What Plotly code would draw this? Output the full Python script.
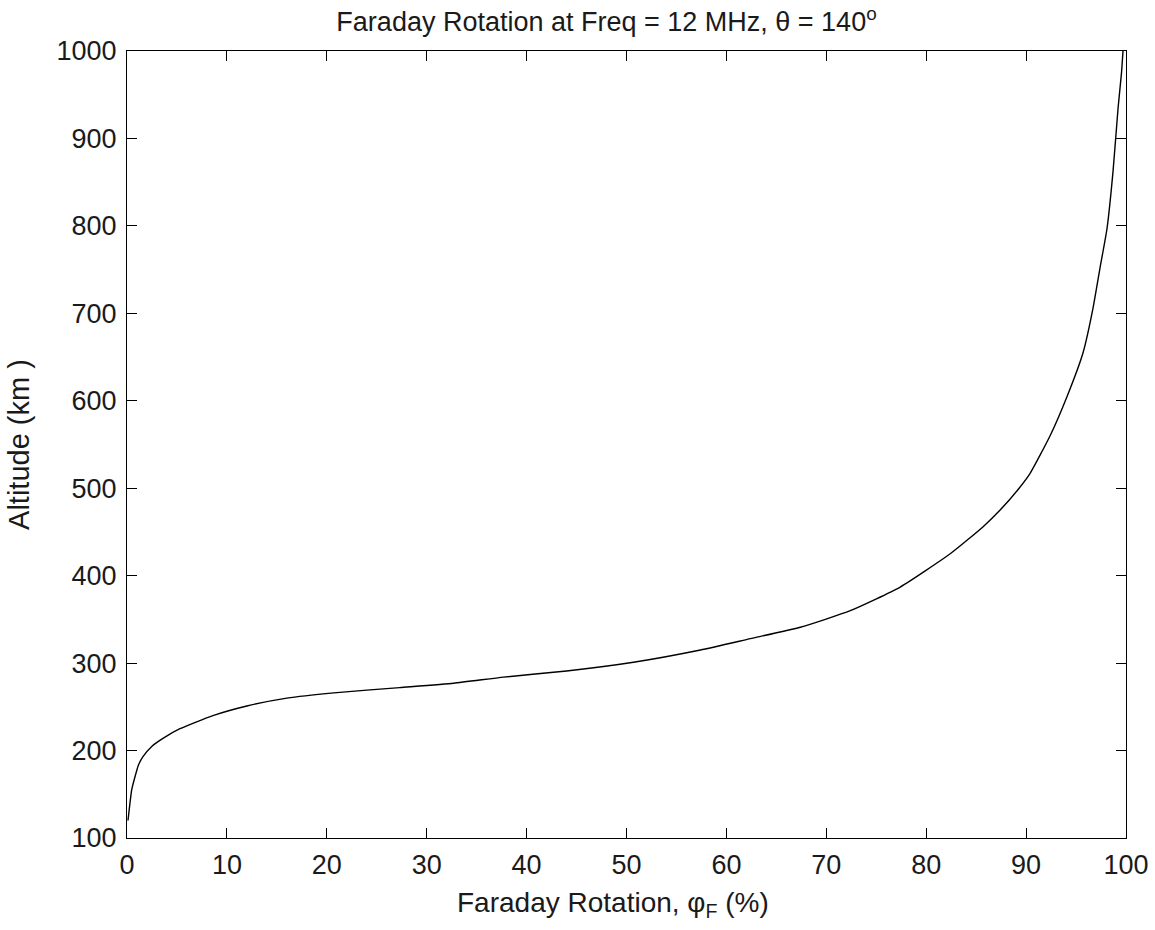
import plotly.graph_objects as go

rotation_pct = [0.1, 0.47, 0.8, 1.13, 1.6, 2.5, 3.6, 5.3, 8.6, 12.0, 16.0, 20.7, 27.3, 32.7,
                37.7, 44.0, 50.7, 57.4, 62.4, 67.4, 72.4, 77.4, 82.4, 85.7, 87.4, 89.3,
                90.4, 92.4, 94.1, 95.7, 96.7, 97.4, 98.1, 98.7, 99.2, 99.55, 99.7]
altitude_km = [120, 155, 170, 183, 193, 205, 214, 225, 240, 251, 260, 266, 272, 277,
               284, 291, 301, 315, 328, 341, 360, 387, 425, 456, 475, 500,
               517, 560, 605, 655, 706, 752, 797, 862, 934, 975, 1000]

x_ticks = [0, 10, 20, 30, 40, 50, 60, 70, 80, 90, 100]
y_ticks = [100, 200, 300, 400, 500, 600, 700, 800, 900, 1000]

FONT = "Liberation Sans, Arial, sans-serif"
TXT = "#1a1a1a"

fig = go.Figure()
fig.add_trace(go.Scatter(x=rotation_pct, y=altitude_km, mode="lines",
                         line=dict(color="black", width=1.4, shape="spline", smoothing=0.5),
                         showlegend=False, hoverinfo="skip"))

axis_common = dict(showgrid=False, zeroline=False, showline=True, linecolor="black",
                   linewidth=1.2, mirror="ticks", ticks="inside", ticklen=10,
                   tickwidth=1.2, tickcolor="black",
                   tickfont=dict(family=FONT, size=27, color=TXT))

fig.update_layout(
    width=1155, height=930,
    margin=dict(l=127, r=29, t=51, b=92, autoexpand=False),
    paper_bgcolor="white", plot_bgcolor="white",
    title=dict(text="Faraday Rotation at Freq = 12 MHz, \u03b8 = 140<sup>o</sup>",
               x=0.48, xanchor="center", y=0.977, yanchor="middle",
               xref="paper",
               font=dict(family=FONT, size=27, color=TXT)),
    xaxis=dict(range=[0, 100], tickvals=x_ticks, ticktext=[str(v) for v in x_ticks],
               ticklabelstandoff=2, **axis_common),
    yaxis=dict(range=[100, 1000], tickvals=y_ticks, ticktext=[str(v) for v in y_ticks],
               ticklabelstandoff=4,
               title=dict(text="Altitude (km )",
                          font=dict(family=FONT, size=29, color=TXT), standoff=18),
               **axis_common),
    annotations=[dict(text="Faraday Rotation, \u03c6<sub>F</sub> (%)",
                      xref="paper", yref="paper", x=0.4865, y=-0.060,
                      xanchor="center", yanchor="top", showarrow=False,
                      font=dict(family=FONT, size=28, color=TXT))],
)

fig.write_html("out.html")
